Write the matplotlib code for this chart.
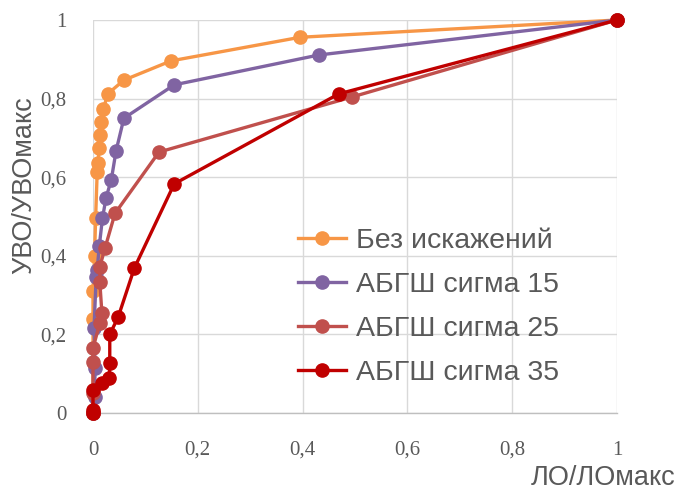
import matplotlib
matplotlib.use("Agg")
import matplotlib.pyplot as plt
from matplotlib.ticker import FuncFormatter, MultipleLocator

# ROC-like curves: ЛО/ЛОмакс vs УВО/УВОмакс
series_names = ["Без искажений", "АБГШ сигма 15", "АБГШ сигма 25", "АБГШ сигма 35"]
series_colors = ["#F79646", "#8064A2", "#C0504D", "#C00000"]

clean_x = [0, 0, 0, 0.003, 0.005, 0.008, 0.010, 0.011, 0.013, 0.016, 0.020, 0.028, 0.059, 0.149, 0.395, 1]
clean_y = [0, 0.24, 0.31, 0.40, 0.495, 0.613, 0.635, 0.675, 0.707, 0.740, 0.774, 0.812, 0.847, 0.896, 0.956, 1]

s15_x = [0, 0.003, 0.004, 0.002, 0.006, 0.008, 0.012, 0.018, 0.025, 0.035, 0.044, 0.059, 0.155, 0.431, 1]
s15_y = [0, 0.04, 0.115, 0.216, 0.345, 0.365, 0.425, 0.495, 0.548, 0.594, 0.667, 0.750, 0.835, 0.911, 1]

s25_x = [0, 0, 0, 0, 0.013, 0.017, 0.013, 0.013, 0.023, 0.042, 0.126, 0.494, 1]
s25_y = [0, 0.05, 0.13, 0.165, 0.229, 0.254, 0.333, 0.372, 0.42, 0.508, 0.664, 0.804, 1]

s35_x = [0, 0, 0, 0.017, 0.031, 0.032, 0.032, 0.048, 0.079, 0.155, 0.469, 1]
s35_y = [0, 0.008, 0.058, 0.076, 0.089, 0.127, 0.200, 0.244, 0.369, 0.583, 0.812, 1]

xs = [clean_x, s15_x, s25_x, s35_x]
ys = [clean_y, s15_y, s25_y, s35_y]

TEXT_COLOR = "#595959"

fig = plt.figure(figsize=(6.82, 4.93), dpi=100)
ax = fig.add_axes([93 / 682, 80 / 493, 524 / 682, 393 / 493])

for x, y, name, color in zip(xs, ys, series_names, series_colors):
    ax.plot(x, y, color=color, linewidth=2.4, marker="o", markersize=9.5,
            label=name, clip_on=False, zorder=3)

ax.set_xlim(0, 1)
ax.set_ylim(0, 1)
ax.xaxis.set_major_locator(MultipleLocator(0.2))
ax.yaxis.set_major_locator(MultipleLocator(0.2))
fmt = FuncFormatter(lambda v, p: f"{v:g}".replace(".", ","))
ax.xaxis.set_major_formatter(fmt)
ax.yaxis.set_major_formatter(fmt)

ax.grid(True, color="#D9D9D9", linewidth=1.0, zorder=0)
ax.set_axisbelow(True)
for side in ["top", "right", "left"]:
    ax.spines[side].set_visible(False)
ax.spines["bottom"].set_color("#BFBFBF")
ax.spines["bottom"].set_linewidth(1.0)

ax.tick_params(length=0, labelcolor=TEXT_COLOR, labelsize=15)
ax.tick_params(axis="x", pad=20)
ax.tick_params(axis="y", pad=19)
for lbl in ax.get_xticklabels() + ax.get_yticklabels():
    lbl.set_family("Liberation Serif")

ax.set_xlabel("ЛО/ЛОмакс", fontsize=19.5, color=TEXT_COLOR, family="Liberation Sans",
              ha="right", va="center")
ax.xaxis.set_label_coords(1.111, -0.165)
ax.set_ylabel("УВО/УВОмакс", fontsize=19.5, color=TEXT_COLOR, family="Liberation Sans")
ax.yaxis.set_label_coords(-0.107, 0.58)

leg = ax.legend(loc="upper left", bbox_to_anchor=(0.37, 0.50), frameon=False,
                fontsize=20.5, handlelength=1.68, handletextpad=0.35,
                labelspacing=0.63, borderaxespad=0)
for t in leg.get_texts():
    t.set_color(TEXT_COLOR)
    t.set_family("Liberation Sans")

fig.savefig("out.png", dpi=100)
